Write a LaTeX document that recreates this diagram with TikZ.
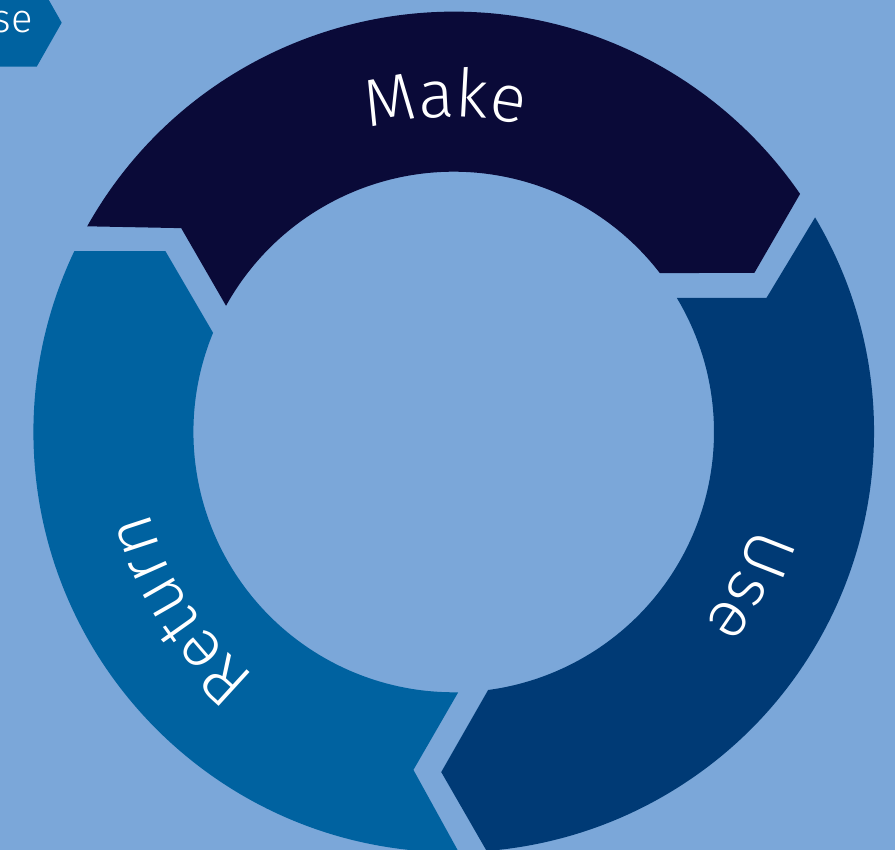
\documentclass[tikz,border=0pt]{standalone}
\usepackage{fontspec}
\setmainfont{Fira Sans Light}
\usetikzlibrary{decorations.text}
\definecolor{bgblue}{RGB}{123,167,217}
\definecolor{makecol}{RGB}{10,10,56}
\definecolor{usecol}{RGB}{0,58,117}
\definecolor{returncol}{RGB}{0,98,160}
\newcommand{\ringfont}{\fontsize{67}{72}\selectfont}
\tikzset{
  ringlabel/.style={decorate, decoration={text along path, text={|\ringfont|#1},
    text align=center, text color=white}}
}
\begin{document}
\begin{tikzpicture}[x=1pt,y=1pt]
	\useasboundingbox (0,0) rectangle (895,850);
	\clip (0,0) rectangle (895,850);
	\fill[bgblue] (0,0) rectangle (895,850);

	% Fane oppe til venstre
	\fill[returncol] (-2,871.3) -- (36.7,871.3) -- (61.7,827.3) -- (36.7,783.3) -- (-2,783.3) -- cycle;
	\node[white, anchor=base east, inner sep=0pt, font=\fontsize{40}{44}\selectfont] (tab) at (33,817) {se};

	\begin{scope}[shift={(453.7,418)}]
		% Make
		\fill[makecol] (150.7:420.3) arc[start angle=150.7, end angle=34.5, radius=420.3]
			-- (27.9:340.3) -- (37.6:260.3) arc[start angle=37.6, end angle=151.0, radius=260.3]
			-- (143.2:340.3) -- cycle;
		% Use
		\fill[usecol] (30.7:420.3) arc[start angle=30.7, end angle=-85.5, radius=420.3]
			-- (-92.1:340.3) -- (-82.4:260.3) arc[start angle=-82.4, end angle=31.0, radius=260.3]
			-- (23.2:340.3) -- cycle;
		% Return
		\fill[returncol] (-89.3:420.3) arc[start angle=-89.3, end angle=-205.5, radius=420.3]
			-- (-212.1:340.3) -- (-202.4:260.3) arc[start angle=-202.4, end angle=-89.0, radius=260.3]
			-- (-96.8:340.3) -- cycle;

		% Tekst langs ringen
		\path[ringlabel=Make] (131.5:315) arc[start angle=131.5, end angle=51.5, radius=315];
		\path[ringlabel=Use] (12.5:315) arc[start angle=12.5, end angle=-67.5, radius=315];
		\path[ringlabel=Return] (252.9:315) arc[start angle=252.9, end angle=172.9, radius=315];
	\end{scope}
\end{tikzpicture}
\end{document}
